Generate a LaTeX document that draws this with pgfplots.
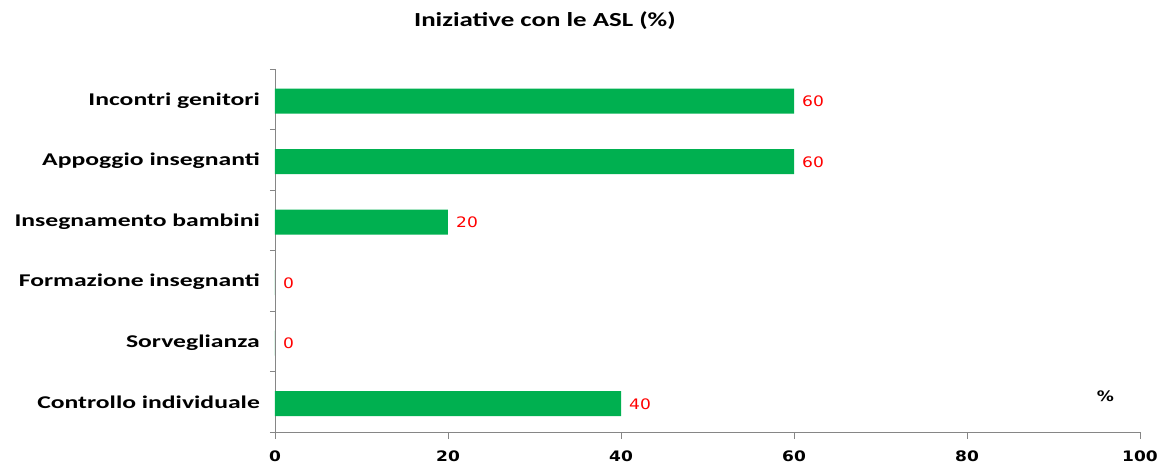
\documentclass[border=0pt]{standalone}
\usepackage{pgfplots}
\pgfplotsset{compat=1.18}
\usepackage{fontspec}
\setmainfont{Carlito}
\newfontfamily\catfont[FakeStretch=1.35]{Carlito}
\newfontfamily\labfont[FakeStretch=1.43]{Carlito}
\newfontfamily\numfont[FakeStretch=1.18]{DejaVu Sans}
\definecolor{barg}{HTML}{00B050}
\definecolor{axg}{HTML}{868686}
\definecolor{lblred}{HTML}{FF0000}
\begin{document}
\begin{tikzpicture}
\begin{axis}[
  xbar,
  width=865bp, height=363bp, scale only axis,
  xmin=0, xmax=100, ymin=-0.5, ymax=5.5,
  axis x line*=bottom, axis y line*=left,
  axis line style={axg, line width=0.8bp},
  /pgf/number format/assume math mode=true,
  xtick={0,20,...,100},
  ytick={0,...,5},
  yticklabels={Controllo individuale, Sorveglianza, Formazione insegnanti, Insegnamento bambini, Appoggio insegnanti, Incontri genitori},
  minor ytick={-0.5,0.5,...,5.5},
  tick align=outside,
  major tick length=7bp,
  minor tick length=5bp,
  major y tick style={draw=none},
  tick style={axg, line width=0.8bp},
  yticklabel style={font=\labfont\bfseries\fontsize{18}{21}\selectfont, inner sep=0pt, xshift=-8bp, yshift=-1bp},
  xticklabel style={font=\numfont\bfseries\fontsize{14.5}{17}\selectfont, inner sep=0pt, yshift=-12bp},
  bar width=25bp,
  bar shift=-2bp,
  nodes near coords,
  nodes near coords style={font=\numfont\fontsize{14.5}{17}\selectfont, text=lblred, anchor=west, inner sep=0pt, xshift=8bp},
  clip=false,
]
\addplot[fill=barg, draw=none] coordinates {(40,0) (0,1) (0,2) (20,3) (60,4) (60,5)};
\node[font=\catfont\bfseries\fontsize{20}{24}\selectfont] at (rel axis cs:0.312,1.132) {Iniziative con le ASL (\%)};
\node[font=\numfont\bfseries\fontsize{14.5}{17}\selectfont] at (rel axis cs:0.96,0.099) {\%};
\end{axis}
\pgfresetboundingbox
\path ([xshift=-275bp,yshift=-33bp]current axis.south west) rectangle ([xshift=21bp,yshift=69bp]current axis.north east);
\end{tikzpicture}
\end{document}
